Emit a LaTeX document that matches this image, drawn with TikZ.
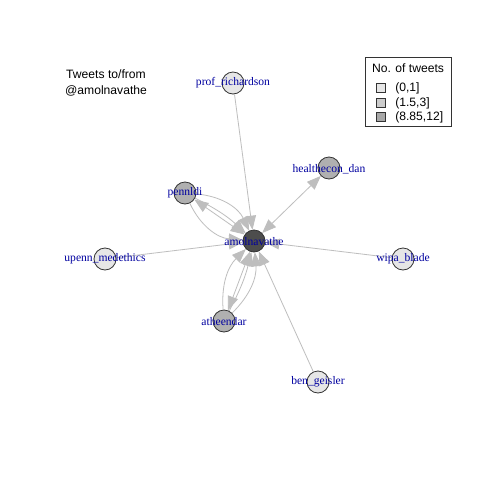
\documentclass[tikz,border=0pt]{standalone}
\usepackage{fontspec}
\setmainfont{Liberation Serif}
\setsansfont{Liberation Sans}
\usetikzlibrary{arrows.meta}
\definecolor{edgegray}{HTML}{BEBEBE}
\definecolor{vlight}{HTML}{E6E6E6}
\definecolor{vmid}{HTML}{B0B0B0}
\definecolor{vdark}{HTML}{4D4D4D}
\definecolor{lblue}{HTML}{0000A0}
\definecolor{leglight}{HTML}{E6E6E6}
\definecolor{legmid}{HTML}{CCCCCC}
\definecolor{legdark}{HTML}{A8A8A8}
\tikzset{
  vert/.style={circle, draw=black!80, line width=0.6pt, minimum size=16.5pt, inner sep=0pt},
  vlab/.style={text=lblue, font=\fontsize{8.7}{9}\selectfont, inner sep=0pt},
  edge/.style={draw=edgegray, line width=0.6pt, -{Triangle[length=10.5pt,width=8pt,fill=edgegray]}},
  bedge/.style={draw=edgegray, line width=0.6pt, {Triangle[length=10.5pt,width=8pt,fill=edgegray]}-{Triangle[length=10.5pt,width=8pt,fill=edgegray]}},
  legtxt/.style={font=\sffamily\fontsize{9.1}{10}\selectfont, inner sep=0pt, anchor=west},
  legsq/.style={draw=black!80, line width=0.5pt, minimum size=6.5pt, inner sep=0pt}
}
\begin{document}
\begin{tikzpicture}[x=0.75pt, y=-0.75pt]
\useasboundingbox[fill=white] (0,0) rectangle (480,480);
% vertices
\node[vert, fill=vdark] (amol) at (254,241) {};
\node[vert, fill=vlight] (prof) at (233,83) {};
\node[vert, fill=vmid] (hdan) at (329,168) {};
\node[vert, fill=vmid] (penn) at (185,193) {};
\node[vert, fill=vlight] (wipa) at (403,259) {};
\node[vert, fill=vlight] (upenn) at (105,259) {};
\node[vert, fill=vmid] (athe) at (224,321) {};
\node[vert, fill=vlight] (ben) at (318,382) {};
% edges
\draw[edge] (prof) -- (amol);
\draw[bedge] (hdan) -- (amol);
\draw[edge] (wipa) -- (amol);
\draw[edge] (upenn) -- (amol);
\draw[edge] (ben) -- (amol);
\draw[bedge] (penn) -- (amol);
\draw[edge] (penn) to[bend left=30] (amol);
\draw[edge] (penn) to[bend right=30] (amol);
\draw[edge] (penn) to[bend left=8] (amol);
\draw[bedge] (athe) -- (amol);
\draw[edge] (athe) to[bend left=25] (amol);
\draw[edge] (athe) to[bend right=25] (amol);
\draw[edge] (athe) to[bend right=7] (amol);
% labels
\node[vlab] (lamol) at (254,242) {amolnavathe};
\node[vlab] (lprof) at (233,83) {prof\_richardson};
\node[vlab] (lhdan) at (329,169) {healthecon\_dan};
\node[vlab] (lpenn) at (185,193) {pennldi};
\node[vlab] (lwipa) at (403,259) {wipa\_blade};
\node[vlab] (lupenn) at (105,259) {upenn\_medethics};
\node[vlab] (lathe) at (224,322) {atheendar};
\node[vlab] (lben) at (318,382) {ben\_geisler};
% title
\node[font=\sffamily\fontsize{9.1}{12}\selectfont, align=center, inner sep=0pt] (title) at (106,83) {Tweets to/from\\@amolnavathe};
% legend
\node[draw=black!80, line width=0.5pt, minimum width=64.5pt, minimum height=52pt, inner sep=0pt] (legbox) at (408,91.5) {};
\node[font=\sffamily\fontsize{9.1}{10}\selectfont, inner sep=0pt] (legtitle) at (408,68) {No. of tweets};
\node[legsq, fill=leglight] (sq1) at (381,88) {};
\node[legsq, fill=legmid] (sq2) at (381,103) {};
\node[legsq, fill=legdark] (sq3) at (381,117) {};
\node[legtxt] (t1) at (395,88) {(0,1]};
\node[legtxt] (t2) at (395,103) {(1.5,3]};
\node[legtxt] (t3) at (395,117) {(8.85,12]};
\end{tikzpicture}
\end{document}
